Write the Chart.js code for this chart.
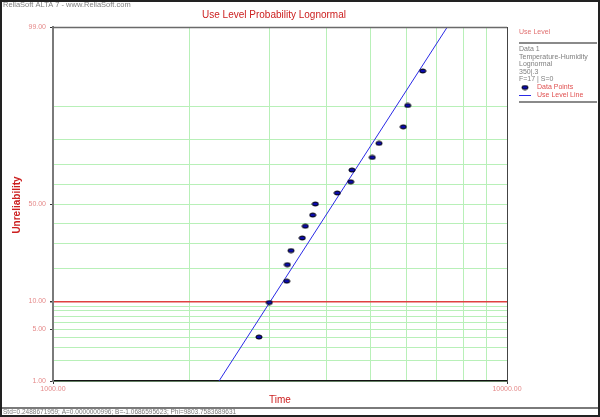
<!DOCTYPE html>
<html>
<head>
<meta charset="utf-8">
<script src="https://cdn.jsdelivr.net/npm/chart.js@4.4.1/dist/chart.umd.min.js"></script>
<style>
  body { margin: 0; background: #fff; }
  #wrap { width: 600px; height: 417px; }
</style>
</head>
<body>
<div id="wrap"><canvas id="grafico" width="600" height="417"></canvas></div>
<script>
// datos
const tiempos = [2842, 2995, 3272, 3282, 3344, 3541, 3595, 3733, 3783, 4229, 4526, 4556, 5050, 5225, 5909, 6044, 6522];
const noFiabilidad = [4.02, 9.77, 15.52, 21.26, 27.01, 32.76, 38.51, 44.25, 50.00, 55.75, 61.49, 67.24, 72.99, 78.74, 84.48, 90.23, 95.98];
const lineaTiempos = [2321, 7388];
const lineaNoFiab = [1, 99];
const yTicks = [1, 2, 3, 4, 5, 6, 7, 8, 9, 10, 20, 30, 40, 50, 60, 70, 80, 90, 99];
const yEtiquetas = [1, 5, 10, 50, 99];
const xTicks = [1000, 2000, 3000, 4000, 5000, 6000, 7000, 8000, 9000, 10000];
const xEtiquetas = [1000, 10000];

// inversa de la normal (Acklam)
function normInv(p) {
    const a = [-39.6968302866538, 220.946098424521, -275.928510446969, 138.357751867269, -30.6647980661472, 2.50662827745924];
    const b = [-54.4760987982241, 161.585836858041, -155.698979859887, 66.8013118877197, -13.2806815528857];
    const c = [-0.00778489400243029, -0.322396458041136, -2.40075827716184, -2.54973253934373, 4.37466414146497, 2.93816398269878];
    const d = [0.00778469570904146, 0.32246712907004, 2.445134137143, 3.75440866190742];
    const pl = 0.02425;
    let q, r;
    if (p < pl) {
        q = Math.sqrt(-2 * Math.log(p));
        return (((((c[0]*q+c[1])*q+c[2])*q+c[3])*q+c[4])*q+c[5]) / ((((d[0]*q+d[1])*q+d[2])*q+d[3])*q+1);
    }
    if (p > 1 - pl) {
        q = Math.sqrt(-2 * Math.log(1 - p));
        return -(((((c[0]*q+c[1])*q+c[2])*q+c[3])*q+c[4])*q+c[5]) / ((((d[0]*q+d[1])*q+d[2])*q+d[3])*q+1);
    }
    q = p - 0.5;
    r = q * q;
    return (((((a[0]*r+a[1])*r+a[2])*r+a[3])*r+a[4])*r+a[5])*q / (((((b[0]*r+b[1])*r+b[2])*r+b[3])*r+b[4])*r+1);
}

function normCdf(z) {
    const t = 1 / (1 + 0.3275911 * Math.abs(z) / Math.SQRT2);
    const e = 1 - (((((1.061405429*t - 1.453152027)*t) + 1.421413741)*t - 0.284496736)*t + 0.254829592)*t * Math.exp(-z*z/2);
    return z >= 0 ? (1 + e) / 2 : (1 - e) / 2;
}

// escala de probabilidad normal
class EscalaProbabilidad extends Chart.LinearScale {
    buildTicks() {
        return yTicks.map(v => ({ value: v }));
    }
    configure() {
        super.configure();
        this._zMin = normInv(this.min / 100);
        this._zMax = normInv(this.max / 100);
    }
    getPixelForValue(value) {
        return this.getPixelForDecimal((normInv(value / 100) - this._zMin) / (this._zMax - this._zMin));
    }
    getValueForPixel(pixel) {
        const dec = this.getDecimalForPixel(pixel);
        return normCdf(this._zMin + dec * (this._zMax - this._zMin)) * 100;
    }
}
EscalaProbabilidad.id = 'probabilidad';
EscalaProbabilidad.defaults = Chart.LinearScale.defaults;
Chart.register(EscalaProbabilidad);

// marcador elipse
const marca = document.createElement('canvas');
marca.width = 8;
marca.height = 6;
(function() {
    const c = marca.getContext('2d');
    c.beginPath();
    c.ellipse(4, 3, 3.1, 2.0, 0, 0, Math.PI * 2);
    c.fillStyle = '#0b0bae';
    c.fill();
    c.lineWidth = 1;
    c.strokeStyle = '#000';
    c.stroke();
})();

const rojoSuave = '#e58a8a';
const verdeGrid = '#b8f0b8';

const adornos = {
    id: 'adornos',
    afterDraw(chart) {
        const ctx = chart.ctx;
        const a = chart.chartArea;
        ctx.save();

        // borde superior y derecho del area
        ctx.strokeStyle = '#6a6a6a';
        ctx.lineWidth = 1.5;
        ctx.beginPath();
        ctx.moveTo(a.left, a.top + 0.5);
        ctx.lineTo(a.right, a.top + 0.5);
        ctx.stroke();
        ctx.strokeStyle = '#444';
        ctx.lineWidth = 1;
        ctx.beginPath();
        ctx.moveTo(a.right + 0.5, a.top);
        ctx.lineTo(a.right + 0.5, a.bottom);
        ctx.stroke();

        // cabecera
        ctx.fillStyle = '#808080';
        ctx.font = '7.5px "Liberation Sans"';
        ctx.textBaseline = 'middle';
        ctx.textAlign = 'left';
        ctx.fillText('ReliaSoft ALTA 7 - www.ReliaSoft.com', 3, 5);

        // titulo
        ctx.fillStyle = '#cc2020';
        ctx.font = '10px "Liberation Sans"';
        ctx.textAlign = 'center';
        ctx.fillText('Use Level Probability Lognormal', 274, 15);

        // titulos de ejes
        ctx.fillStyle = '#cc2020';
        ctx.font = 'bold 10px "Liberation Sans"';
        ctx.save();
        ctx.translate(17, 205);
        ctx.rotate(-Math.PI / 2);
        ctx.fillText('Unreliability', 0, 0);
        ctx.restore();
        ctx.font = '10px "Liberation Sans"';
        ctx.fillText('Time', 280, 400);

        // panel derecho
        ctx.textAlign = 'left';
        ctx.fillStyle = '#e07070';
        ctx.font = '7px "Liberation Sans"';
        ctx.fillText('Use Level', 519, 32);
        ctx.strokeStyle = '#8a8a8a';
        ctx.lineWidth = 2;
        ctx.beginPath();
        ctx.moveTo(519, 43);
        ctx.lineTo(597, 43);
        ctx.moveTo(519, 102);
        ctx.lineTo(597, 102);
        ctx.stroke();
        ctx.fillStyle = '#7e7e7e';
        ['Data 1', 'Temperature-Humidity', 'Lognormal', '350|.3', 'F=17 | S=0'].forEach((t, i) => {
            ctx.fillText(t, 519, 49 + i * 7.6);
        });
        ctx.drawImage(marca, 521, 84.5);
        ctx.strokeStyle = '#2a2ae6';
        ctx.lineWidth = 1;
        ctx.beginPath();
        ctx.moveTo(519, 95.5);
        ctx.lineTo(531, 95.5);
        ctx.stroke();
        ctx.fillStyle = '#e05050';
        ctx.fillText('Data Points', 537, 87.5);
        ctx.fillText('Use Level Line', 537, 95.5);

        // barra de estado
        ctx.strokeStyle = '#7a7a7a';
        ctx.lineWidth = 2;
        ctx.beginPath();
        ctx.moveTo(0, 408);
        ctx.lineTo(600, 408);
        ctx.stroke();
        ctx.fillStyle = '#7a7a7a';
        ctx.font = '6.5px "Liberation Sans"';
        ctx.fillText('Std=0.2488671959; A=0.0000000996; B=-1.0686595623; Phi=9803.7583689631', 3, 412.5);

        // marco exterior
        ctx.strokeStyle = '#222';
        ctx.lineWidth = 2;
        ctx.strokeRect(1, 1, 598, 415);
        ctx.restore();
    }
};

new Chart(document.getElementById('grafico').getContext('2d'), {
    type: 'scatter',
    data: {
        datasets: [{
            label: 'Data Points',
            data: tiempos.map((t, i) => ({ x: t, y: noFiabilidad[i] })),
            pointStyle: marca,
            order: 0
        }, {
            label: 'Use Level Line',
            type: 'line',
            data: lineaTiempos.map((t, i) => ({ x: t, y: lineaNoFiab[i] })),
            borderColor: '#2a2ae6',
            borderWidth: 1,
            pointRadius: 0,
            fill: false,
            order: 1
        }]
    },
    options: {
        responsive: false,
        animation: false,
        devicePixelRatio: 1,
        layout: { padding: { left: 0, right: 93, top: 27, bottom: 0 } },
        plugins: {
            legend: { display: false },
            title: { display: false },
            tooltip: { enabled: false }
        },
        scales: {
            x: {
                type: 'logarithmic',
                min: 1000,
                max: 10000,
                afterBuildTicks: axis => { axis.ticks = xTicks.map(v => ({ value: v })); },
                afterFit: axis => { axis.height = 36; },
                border: { color: '#111', width: 1.5 },
                grid: {
                    color: verdeGrid,
                    lineWidth: 1,
                    tickLength: 3,
                    tickColor: c => xEtiquetas.includes(c.tick && c.tick.value) ? '#333' : 'rgba(0,0,0,0)'
                },
                ticks: {
                    autoSkip: false,
                    maxRotation: 0,
                    padding: 1,
                    color: rojoSuave,
                    font: { family: 'Liberation Sans', size: 7 },
                    callback: v => xEtiquetas.includes(v) ? v.toFixed(2) : ''
                }
            },
            y: {
                type: 'probabilidad',
                min: 1,
                max: 99,
                afterFit: axis => { axis.width = 53; },
                border: { color: '#7a7a7a', width: 2 },
                grid: {
                    color: c => (c.tick && c.tick.value === 10) ? '#e04040' : verdeGrid,
                    lineWidth: c => (c.tick && c.tick.value === 10) ? 1.5 : 1,
                    tickLength: 3,
                    tickColor: c => yEtiquetas.includes(c.tick && c.tick.value) ? '#333' : 'rgba(0,0,0,0)'
                },
                ticks: {
                    autoSkip: false,
                    padding: 4,
                    color: rojoSuave,
                    font: { family: 'Liberation Sans', size: 7 },
                    callback: v => yEtiquetas.includes(v) ? v.toFixed(2) : ''
                }
            }
        }
    },
    plugins: [adornos]
});
</script>
</body>
</html>
